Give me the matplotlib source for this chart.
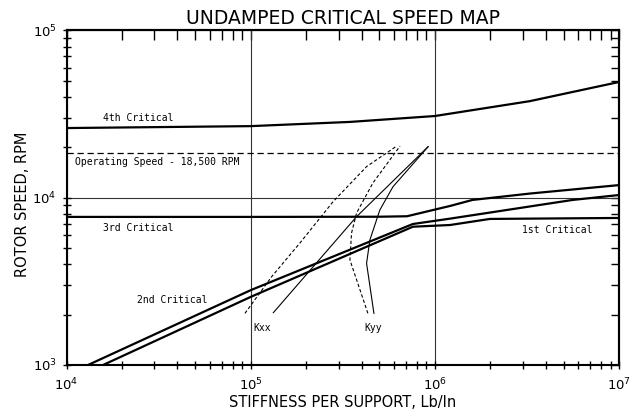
import matplotlib
matplotlib.use("Agg")
import matplotlib.pyplot as plt
from matplotlib.ticker import LogLocator, NullFormatter, FixedLocator, FixedFormatter

# ---- data -----------------------------------------------------------------
# critical speed curves: stiffness per support (Lb/In) vs rotor speed (RPM)
crit4_k = [1e4, 1e5, 3.46e5, 1e6, 3.28e6, 1e7]
crit4_rpm = [26100, 26800, 28400, 30800, 37800, 49200]

crit3_k = [1e4, 1e5, 5.0e5, 7.06e5, 1.21e6, 1.6e6, 3.3e6, 1e7]
crit3_rpm = [7680, 7680, 7700, 7750, 8930, 9700, 10600, 11900]

crit2_k = [13090, 1.004e5, 7.6e5, 1.21e6, 5.6e6, 1e7]
crit2_rpm = [1000, 2806, 6966, 7500, 9700, 10380]

crit1_k = [15800, 1.004e5, 7.6e5, 1.21e6, 1.99e6, 1e7]
crit1_rpm = [1000, 2558, 6710, 6870, 7470, 7570]

operating_rpm = 18500

# bearing stiffness vs speed
kxx_k = [1.328e5, 3.76e5, 9.2e5]
kxx_rpm = [2055, 7710, 20200]
kxx_dash_k = [93100, 1.30e5, 1.85e5, 2.80e5, 4.26e5, 6.21e5]
kxx_dash_rpm = [2036, 3373, 5356, 9460, 15350, 20370]

kyy_k = [4.67e5, 4.26e5, 4.44e5, 5.03e5, 5.93e5, 9.2e5]
kyy_rpm = [2036, 4055, 5590, 8450, 11650, 20200]
kyy_dash_k = [4.33e5, 3.46e5, 3.53e5, 3.76e5, 4.61e5, 6.47e5]
kyy_dash_rpm = [2036, 4246, 6150, 8110, 12250, 20370]

x_ticks = [1e4, 1e5, 1e6, 1e7]
x_tick_labels = [r"$10^{4}$", r"$10^{5}$", r"$10^{6}$", r"$10^{7}$"]
y_ticks = [1e3, 1e4, 1e5]
y_tick_labels = [r"$10^{3}$", r"$10^{4}$", r"$10^{5}$"]

# ---- figure ---------------------------------------------------------------
plt.rcParams["mathtext.fontset"] = "dejavusans"
fig = plt.figure(figsize=(6.37, 4.12), dpi=100)
ax = fig.add_axes([0.1044, 0.1141, 0.8673, 0.8119])
ax.set_xscale("log")
ax.set_yscale("log")
ax.set_xlim(1e4, 1e7)
ax.set_ylim(1e3, 1e5)

thick = dict(color="black", lw=1.6, solid_capstyle="butt")
thin = dict(color="black", lw=0.8)

ax.plot(crit4_k, crit4_rpm, **thick)
ax.plot(crit3_k, crit3_rpm, **thick)
ax.plot(crit2_k, crit2_rpm, **thick)
ax.plot(crit1_k, crit1_rpm, **thick)
ax.axhline(operating_rpm, color="black", lw=0.9, ls=(0, (5, 3)))

ax.plot(kxx_k, kxx_rpm, **thin)
ax.plot(kyy_k, kyy_rpm, **thin)
ax.plot(kxx_dash_k, kxx_dash_rpm, ls=(0, (3, 2)), **thin)
ax.plot(kyy_dash_k, kyy_dash_rpm, ls=(0, (3, 2)), **thin)

# grid at the decades
ax.grid(True, which="major", color="#333333", lw=0.8)

for s in ax.spines.values():
    s.set_linewidth(1.5)

ax.xaxis.set_major_locator(FixedLocator(x_ticks))
ax.xaxis.set_major_formatter(FixedFormatter(x_tick_labels))
ax.yaxis.set_major_locator(FixedLocator(y_ticks))
ax.yaxis.set_major_formatter(FixedFormatter(y_tick_labels))
ax.xaxis.set_minor_locator(LogLocator(base=10, subs=range(2, 10)))
ax.yaxis.set_minor_locator(LogLocator(base=10, subs=range(2, 10)))
ax.xaxis.set_minor_formatter(NullFormatter())
ax.yaxis.set_minor_formatter(NullFormatter())

ax.tick_params(axis="x", which="both", direction="inout", length=5.5, width=1.0,
               top=False, labelsize=9.5, pad=6)
ax.tick_params(axis="y", which="both", direction="inout", length=6, width=1.0,
               right=False, labelsize=9.5, pad=4)
# inward ticks on top and right
tx = ax.secondary_xaxis("top")
tx.xaxis.set_major_locator(FixedLocator(x_ticks))
tx.xaxis.set_minor_locator(LogLocator(base=10, subs=range(2, 10)))
tx.xaxis.set_major_formatter(NullFormatter())
tx.xaxis.set_minor_formatter(NullFormatter())
tx.tick_params(which="both", direction="in", length=7, width=1.0)
ty = ax.secondary_yaxis("right")
ty.yaxis.set_major_locator(FixedLocator(y_ticks))
ty.yaxis.set_minor_locator(LogLocator(base=10, subs=range(2, 10)))
ty.yaxis.set_major_formatter(NullFormatter())
ty.yaxis.set_minor_formatter(NullFormatter())
ty.tick_params(which="both", direction="in", length=5.5, width=1.0)
for sec in (tx, ty):
    for s in sec.spines.values():
        s.set_linewidth(1.5)

ax.set_title("UNDAMPED CRITICAL SPEED MAP", fontsize=13.5, pad=5,
             fontfamily="DejaVu Sans", color="black")
ax.set_xlabel("STIFFNESS PER SUPPORT, Lb/In", fontsize=10.5, labelpad=1)
ax.set_ylabel("ROTOR SPEED, RPM", fontsize=10.5)
ax.yaxis.set_label_coords(-0.066, 0.48)

lbl = dict(fontsize=7, fontfamily="DejaVu Sans Mono", va="center", ha="left")
ax.text(15800, 30000, "4th Critical", **lbl)
ax.text(11100, 16400, "Operating Speed - 18,500 RPM", **lbl)
ax.text(15800, 6590, "3rd Critical", **lbl)
ax.text(24200, 2450, "2nd Critical", **lbl)
ax.text(2.97e6, 6410, "1st Critical", **lbl)
ax.text(1.04e5, 1665, "Kxx", **lbl)
ax.text(4.12e5, 1665, "Kyy", **lbl)

fig.savefig("out.png", dpi=100)
